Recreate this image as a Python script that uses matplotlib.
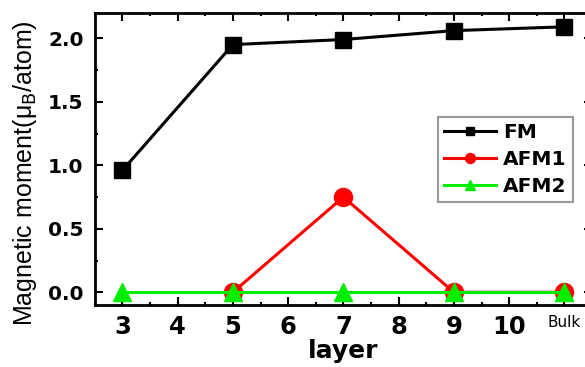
import matplotlib
matplotlib.use("Agg")
import matplotlib.pyplot as plt
from matplotlib.ticker import MultipleLocator, FormatStrFormatter

plt.rcParams['font.family'] = ['DejaVu Sans']

layers = [3, 5, 7, 9, 11]
fm = [0.96, 1.95, 1.99, 2.06, 2.09]
afm1_layers = [5, 7, 9, 11]
afm1 = [0.0, 0.75, 0.0, 0.0]
afm2 = [0.0, 0.0, 0.0, 0.0, 0.0]
tick_pos = [3, 4, 5, 6, 7, 8, 9, 10, 11]
tick_labels = ['3', '4', '5', '6', '7', '8', '9', '10', 'Bulk']

fig = plt.figure(figsize=(5.85, 3.67), dpi=100)
ax = fig.add_axes([0.162, 0.169, 0.85, 0.796])

ax.plot(layers, fm, color='black', marker='s', markersize=11, linewidth=2.2, label='FM')
ax.plot(afm1_layers, afm1, color='red', marker='o', markersize=13, linewidth=2.2, label='AFM1')
ax.plot(layers, afm2, color='#00ee00', marker='^', markersize=13, linewidth=2.2, label='AFM2')

ax.set_xlim(2.5, 11.5)
ax.set_ylim(-0.1, 2.2)
ax.set_xticks(tick_pos)
ax.set_xticklabels(tick_labels)
for lbl in ax.get_xticklabels():
    lbl.set_fontweight('bold')
    lbl.set_fontsize(17.5)
ax.get_xticklabels()[-1].set_fontweight('normal')
ax.get_xticklabels()[-1].set_fontsize(11)
ax.xaxis.set_minor_locator(MultipleLocator(0.5))
ax.yaxis.set_major_locator(MultipleLocator(0.5))
ax.yaxis.set_minor_locator(MultipleLocator(0.25))
ax.yaxis.set_major_formatter(FormatStrFormatter('%.1f'))
for lbl in ax.get_yticklabels():
    lbl.set_fontweight('bold')
    lbl.set_fontsize(14.5)

ax.tick_params(which='both', direction='in', top=True, right=True, width=1.5)
ax.tick_params(which='major', length=5.5)
ax.tick_params(axis='x', which='major', pad=7)
ax.tick_params(axis='y', which='major', pad=8)
ax.tick_params(which='minor', length=2.5)
for s in ax.spines.values():
    s.set_linewidth(2)

ax.set_xlabel('layer', fontsize=18, fontweight='bold', labelpad=0)
ax.set_ylabel('Magnetic moment(μ$_{\\rm B}$/atom)', fontsize=18,
              family=['Liberation Sans', 'DejaVu Sans'])
ax.yaxis.set_label_coords(-0.113, 0.45)

leg = ax.legend(loc='upper left', bbox_to_anchor=(0.69, 0.644),
                prop={'weight': 'bold', 'size': 14.5}, frameon=True, fancybox=False,
                edgecolor='gray', handlelength=2.6, borderpad=0.3, labelspacing=0.4,
                handletextpad=0.35, markerscale=0.55, borderaxespad=0)
leg.get_frame().set_linewidth(1.5)

fig.savefig('out.png', dpi=100)
